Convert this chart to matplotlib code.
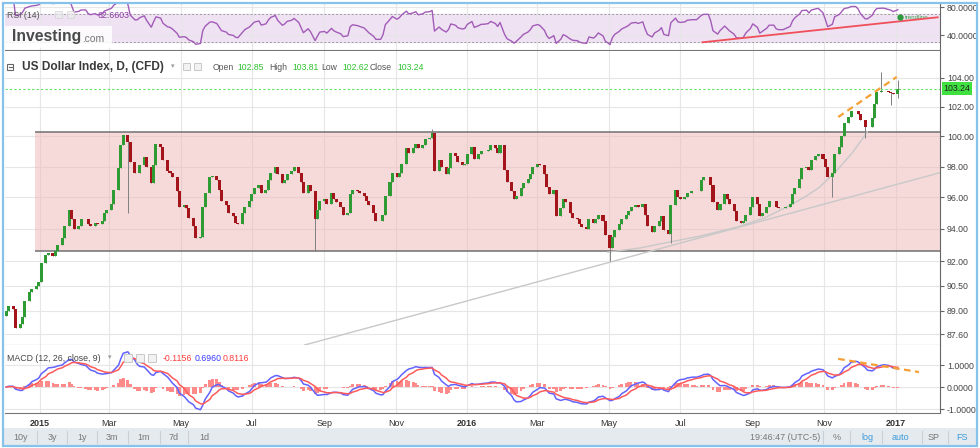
import numpy as np
import pandas as pd
import matplotlib
matplotlib.use('Agg')
import matplotlib.pyplot as plt
import matplotlib.transforms as mtransforms
from matplotlib.patches import Rectangle
from matplotlib.lines import Line2D
from matplotlib.ticker import NullLocator, NullFormatter

plt.rcParams['font.family'] = ['Liberation Sans', 'DejaVu Sans']

W, H = 980, 448

# closes, one candle every 2 business days from 2014-12-03
closes = [
    89.0, 89.3, 89.1, 88.0, 88.2, 88.6, 89.6, 90.1, 90.3, 90.5,
    90.7, 91.9, 92.4, 92.5, 92.3, 92.6, 93.0, 93.4, 94.2, 95.2,
    94.6, 94.0, 94.2, 94.6, 94.6, 94.3, 94.2, 94.4, 94.3, 94.5,
    95.0, 95.2, 95.6, 96.5, 97.9, 99.4, 100.1, 99.6, 98.3, 97.6,
    97.6, 98.1, 98.6, 98.0, 96.9, 98.1, 99.5, 99.3, 98.4, 97.7,
    97.6, 97.3, 96.4, 95.4, 95.5, 95.3, 94.7, 94.2, 93.4, 93.5,
    95.4, 96.3, 97.3, 97.4, 97.1, 96.5, 95.8, 95.5, 95.0, 94.8,
    94.4, 94.3, 95.0, 95.4, 95.8, 96.2, 96.6, 96.8, 96.3, 96.5,
    97.1, 97.6, 98.0, 97.5, 96.9, 97.1, 97.5, 97.7, 98.0, 97.6,
    97.0, 96.3, 96.8, 96.4, 94.6, 95.2, 95.8, 95.9, 95.6, 96.3,
    95.9, 95.7, 95.4, 94.9, 95.0, 96.2, 96.5, 96.4, 96.3, 96.1,
    95.8, 95.5, 95.0, 94.5, 94.5, 94.9, 96.1, 97.0, 97.6, 97.3,
    97.6, 98.2, 99.2, 98.9, 99.2, 99.5, 99.2, 99.4, 99.8, 99.9,
    100.2, 97.7, 98.4, 98.0, 97.5, 97.9, 98.9, 98.7, 98.3, 98.1,
    98.2, 98.8, 99.3, 98.5, 98.8, 99.0, 99.0, 99.1, 99.4, 99.2,
    98.9, 99.4, 97.8, 97.0, 96.4, 95.9, 96.1, 96.6, 96.9, 97.2,
    97.5, 98.0, 98.2, 98.1, 97.5, 96.7, 96.2, 96.5, 94.8, 95.3,
    95.9, 95.7, 95.0, 94.7, 94.6, 94.3, 94.1, 94.0, 94.6, 94.4,
    94.6, 94.9, 94.5, 93.6, 92.8, 93.5, 93.9, 94.3, 94.6, 94.9,
    95.1, 95.4, 95.5, 95.4, 95.6, 94.9, 94.2, 93.8, 94.2, 94.5,
    94.8, 93.9, 93.7, 95.5, 96.5, 96.0, 95.9, 96.0, 96.3, 96.4,
    96.4, 96.4, 97.1, 97.3, 97.3, 96.8, 95.7, 95.2, 95.6, 96.2,
    95.9, 95.6, 95.1, 94.5, 94.4, 94.5, 94.9, 95.4, 96.0, 95.6,
    94.8, 95.0, 95.4, 95.8, 95.8, 95.4, 95.3, 95.3, 95.4, 95.6,
    96.2, 96.6, 97.2, 97.9, 98.0, 97.8, 98.4, 98.7, 98.8, 98.5,
    98.0, 97.3, 97.6, 98.8, 99.3, 100.0, 100.9, 101.3, 101.7, 101.7,
    101.5, 101.1, 100.6, 100.6, 101.2, 102.2, 103.0, 103.1, 103.1, 103.0,
    102.95, 102.85, 103.24,
]
first_open = 88.7

# long wicks visible on the chart
spike_dates = ['2015-03-18', '2015-08-24', '2015-12-02', '2016-05-03', '2016-06-24',
               '2016-11-09', '2016-12-07', '2016-12-20', '2016-12-29', '2017-01-03', '2017-01-03']
spike_prices = [95.0, 92.6, 100.5, 92.0, 93.1, 96.0, 99.9, 104.4, 102.1, 103.81, 102.62]

price_ticks = [87.6, 89.0, 90.5, 92.0, 94.0, 96.0, 98.0, 100.0, 102.0, 104.0]
macd_ticks = [-1.0, 0.0, 1.0]
rsi_ticks = [40, 80]
month_ticks = ['2015-01-01', '2015-03-01', '2015-05-01', '2015-07-01', '2015-09-01', '2015-11-01',
               '2016-01-01', '2016-03-01', '2016-05-01', '2016-07-01', '2016-09-01', '2016-11-01',
               '2017-01-01']
month_labels = ['2015', 'Mar', 'May', 'Jul', 'Sep', 'Nov', '2016', 'Mar', 'May', 'Jul', 'Sep', 'Nov', '2017']

box_start = '2014-12-28'
box_low, box_high = 92.64, 100.31
last_close = 103.24

support_dates = ['2015-08-15', '2017-02-08']
support_prices = [86.98, 97.6]
curve_dates = ['2016-04-30', '2016-05-27', '2016-06-22', '2016-07-18', '2016-08-19', '2016-09-11',
               '2016-09-30', '2016-10-15', '2016-10-28', '2016-11-12', '2016-11-25', '2016-12-08']
curve_prices = [92.55, 92.8, 93.18, 93.55, 94.12, 94.69, 95.39, 96.0, 96.65, 97.76, 98.9, 100.3]
wedge_dates = ['2016-11-13', '2017-01-02']
wedge_prices = [101.3, 104.05]
macd_div_dates = ['2016-11-13', '2017-01-21']
macd_div_vals = [1.28, 0.68]
rsi_trend_dates = ['2016-07-20', '2017-02-06']
rsi_trend_vals = [30, 65.7]

ohlc_labels = ['Open', 'High', 'Low', 'Close']
ohlc_values = ['102.85', '103.81', '102.62', '103.24']
macd_values = ['-0.1156', '0.6960', '0.8116']
rsi_value = '62.6603'

x_left, x_right = pd.Timestamp('2014-12-02'), pd.Timestamp('2017-02-08')

dates = pd.bdate_range('2014-12-03', periods=len(closes), freq='2B')
s = pd.Series(closes, index=dates)
opens = s.shift(1).fillna(first_open)
lows = np.minimum(opens.values, s.values).copy()
highs = np.maximum(opens.values, s.values).copy()
for d, p in zip(spike_dates, spike_prices):
    i = int(np.abs((dates - pd.Timestamp(d)).days).argmin())
    if p < lows[i]:
        lows[i] = p
    else:
        highs[i] = max(highs[i], p)
up = s.values >= opens.values

# indicators on the 2-day candles
delta = s.diff()
gain = delta.clip(lower=0).ewm(alpha=1 / 11, adjust=False).mean()
loss = (-delta.clip(upper=0)).ewm(alpha=1 / 11, adjust=False).mean()
rsi = 100 - 100 / (1 + gain / loss)
macd = s.ewm(span=7.5, adjust=False).mean() - s.ewm(span=16, adjust=False).mean()
signal = macd.ewm(span=5.5, adjust=False).mean()
hist = macd - signal


def fx(x):
    return x / W


def fy(y):
    return 1 - y / H


fig = plt.figure(figsize=(W / 100, H / 100), dpi=100)
fig.patch.set_facecolor('white')

ax_rsi = fig.add_axes([fx(5), fy(50), 935 / W, 46 / H])
ax = fig.add_axes([fx(5), fy(345), 935 / W, 294 / H])
ax_m = fig.add_axes([fx(5), fy(413), 935 / W, 68 / H])

mt = pd.to_datetime(month_ticks)
for a in (ax_rsi, ax, ax_m):
    a.set_xlim(x_left, x_right)
    a.set_xticks(mt)
    a.grid(True, color='#e6e6e6', lw=0.8, zorder=0)
    a.set_axisbelow(True)
    a.yaxis.tick_right()
    a.tick_params(axis='y', length=3, color='#666', labelsize=6.3, labelcolor='#444', pad=2)
    a.tick_params(axis='x', length=0)
    a.spines['left'].set_visible(False)
    a.spines['top'].set_visible(False)
    a.spines['right'].set_color('#666')
    a.spines['bottom'].set_color('#777')
for a in (ax_rsi, ax):
    a.set_xticklabels([])

# RSI panel
ax_rsi.set_ylim(19, 84.7)
ax_rsi.axhspan(30, 70, color='#efe2f3', zorder=0)
ax_rsi.axhline(70, color='#9a9a9a', ls=(0, (2, 2)), lw=0.7)
ax_rsi.axhline(30, color='#9a9a9a', ls=(0, (2, 2)), lw=0.7)
ax_rsi.plot(dates, rsi, color='#a35bb8', lw=1.0, zorder=3)
ax_rsi.plot(pd.to_datetime(rsi_trend_dates), rsi_trend_vals, color='#f0505a', lw=1.3, zorder=4)
ax_rsi.plot(pd.Timestamp('2017-01-05'), 66, 'o', color='#2a9a3a', ms=3.5, zorder=5)
ax_rsi.text(pd.Timestamp('2017-01-09'), 66, 'trendline', color='#3aa04a', fontsize=4.5, va='center')
ax_rsi.set_yticks(rsi_ticks)
ax_rsi.set_yticklabels([f'{v:.4f}' for v in rsi_ticks])

# main price panel
ax.set_yscale('log')
ax.set_ylim(86.98, 105.87)
ax.yaxis.set_minor_locator(NullLocator())
ax.yaxis.set_minor_formatter(NullFormatter())
ax.set_yticks(price_ticks)
ax.set_yticklabels([f'{v:.2f}' for v in price_ticks])

bx = [pd.Timestamp(box_start), x_right]
ax.fill_between(bx, box_low, box_high, color='#efb6b6', alpha=0.5, lw=0, zorder=1)
ax.hlines([box_low, box_high], bx[0], bx[1], color='#707070', lw=1.1, zorder=2)

ax.plot(pd.to_datetime(support_dates), support_prices, color='#c8c8c8', lw=1.0, zorder=2)
ax.plot(pd.to_datetime(curve_dates), curve_prices, color='#c8c8c8', lw=1.0, zorder=2)

ax.vlines(dates, lows, highs, color='#808080', lw=0.7, zorder=3)
ax.bar(dates, s.values - opens.values, bottom=opens.values, width=2.6,
       color=np.where(up, '#2f9b35', '#a3151a'), zorder=4)

ax.axhline(last_close, color='#62e062', ls=(0, (2, 2)), lw=0.8, zorder=5)
ax.plot(pd.to_datetime(wedge_dates), wedge_prices, color='#f5a035', lw=1.6, ls=(0, (3, 2)), zorder=6)
tr = mtransforms.blended_transform_factory(ax.transAxes, ax.transData)
ax.text(1.004, last_close, f'{last_close:.2f}', transform=tr, fontsize=6.3, va='center', ha='left',
        color='#222', bbox=dict(facecolor='#3fe03f', edgecolor='none', pad=1.3))

# MACD panel
ax_m.set_ylim(-1.18, 1.91)
ax_m.bar(dates, hist, width=2.4, color='#ff8a8a', zorder=2)
ax_m.plot(dates, macd, color='#6262ff', lw=1.1, zorder=3)
ax_m.plot(dates, signal, color='#ff5a5a', lw=1.1, zorder=3)
ax_m.plot(pd.to_datetime(macd_div_dates), macd_div_vals, color='#f5a035', lw=1.6, ls=(0, (3, 2)), zorder=4)
ax_m.set_yticks(macd_ticks)
ax_m.set_yticklabels([f'{v:.4f}' for v in macd_ticks])
ax_m.set_xticklabels(month_labels)
ax_m.tick_params(axis='x', labelsize=6.5, labelcolor='#333', pad=4)
for lab in ax_m.get_xticklabels():
    if lab.get_text().isdigit():
        lab.set_fontweight('bold')

# headers
fig.add_artist(Rectangle((fx(7), fy(70)), 6 / W, 6 / H, transform=fig.transFigure,
                         fill=False, edgecolor='#666', lw=0.8))
fig.add_artist(Line2D([fx(8.5), fx(11.5)], [fy(67), fy(67)], transform=fig.transFigure, color='#666', lw=0.8))
fig.text(fx(22), fy(67), 'US Dollar Index, D, (CFD)', fontsize=8.6, fontweight='bold', color='#3a3a3a', va='center')
fig.text(fx(171), fy(66), '\u25be', fontsize=5, color='#999', va='center', family='DejaVu Sans')
for x0 in (183, 194):
    fig.add_artist(Rectangle((fx(x0), fy(70)), 7 / W, 7 / H, transform=fig.transFigure,
                             facecolor='#f2f2f2', edgecolor='#c8c8c8', lw=0.7))
for lab, val, xl, xv in zip(ohlc_labels, ohlc_values, [213, 269, 321, 370], [237, 292, 342, 397]):
    fig.text(fx(xl), fy(67), lab, fontsize=6.2, color='#555', va='center')
    fig.text(fx(xv), fy(67), val, fontsize=6.2, color='#2ec22e', va='center')

fig.text(fx(7), fy(358), 'MACD (12, 26, close, 9)', fontsize=6.3, color='#444', va='center')
fig.text(fx(108), fy(357), '\u25be', fontsize=5, color='#999', va='center', family='DejaVu Sans')
for x0 in (124, 136, 148):
    fig.add_artist(Rectangle((fx(x0), fy(362)), 8 / W, 8 / H, transform=fig.transFigure,
                             facecolor='#f2f2f2', edgecolor='#c8c8c8', lw=0.7))
for val, xv, col in zip(macd_values, [163, 195, 223], ['#ff3b3b', '#3b3bff', '#ff3b3b']):
    fig.text(fx(xv), fy(358), val, fontsize=6.3, color=col, va='center')

fig.text(fx(7), fy(15), 'RSI (14)', fontsize=6.3, color='#555', va='center')
for x0 in (55, 67):
    fig.add_artist(Rectangle((fx(x0), fy(18)), 7 / W, 7 / H, transform=fig.transFigure,
                             facecolor='#ececec', edgecolor='#cfcfcf', lw=0.6, alpha=0.7))
fig.text(fx(97), fy(15), rsi_value, fontsize=6.3, color='#8e3aa8', va='center')

# investing.com watermark
fig.add_artist(Rectangle((fx(5), fy(48)), 107 / W, 22 / H, transform=fig.transFigure,
                         facecolor='white', edgecolor='none', alpha=0.85))
fig.text(fx(12), fy(37), 'Investing', fontsize=11.3, fontweight='bold', color='#4a4a4a', va='center')
fig.text(fx(82), fy(39), '.com', fontsize=7.4, color='#777', va='center')

# bottom toolbar
fig.add_artist(Rectangle((fx(3), fy(446)), 974 / W, 18 / H, transform=fig.transFigure,
                         facecolor='#e5eaef', edgecolor='none'))
for lab, xc in zip(['10y', '3y', '1y', '3m', '1m', '7d', '1d'], [21, 52, 82, 112, 144, 174, 204]):
    fig.text(fx(xc), fy(437), lab, fontsize=6.5, color='#777', ha='center', va='center')
for xs in (37, 67, 97, 128, 160, 188, 823, 850, 882, 922, 948):
    fig.add_artist(Line2D([fx(xs), fx(xs)], [fy(431), fy(443)], transform=fig.transFigure,
                          color='#c9d0d7', lw=0.8))
fig.text(fx(785), fy(437), '19:46:47 (UTC-5)', fontsize=6.5, color='#777', ha='center', va='center')
for lab, xc, col in zip(['%', 'log', 'auto', 'SP', 'FS'], [837, 867, 900, 934, 962],
                        ['#777', '#3a9ad9', '#3a9ad9', '#777', '#3a9ad9']):
    fig.text(fx(xc), fy(437), lab, fontsize=6.5, color=col, ha='center', va='center')

# outer frame
fig.add_artist(Rectangle((fx(3), fy(446)), 974 / W, 443 / H, transform=fig.transFigure,
                         fill=False, edgecolor='#86c2ea', lw=1.6))

fig.savefig('out.png', dpi=100)
